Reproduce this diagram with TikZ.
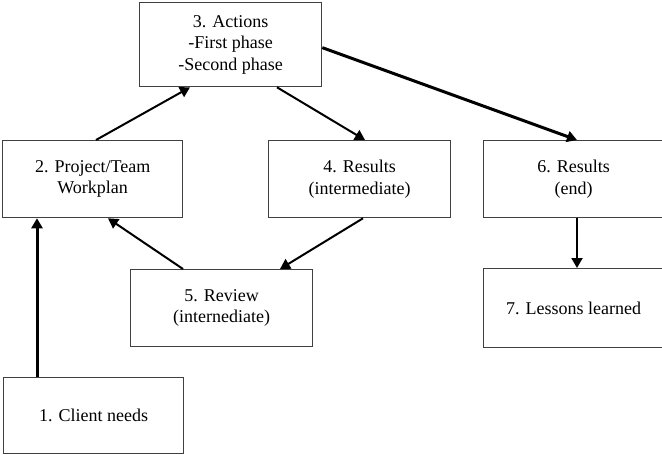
\documentclass[tikz,border=0pt]{standalone}
\usepackage{fontspec}
\setmainfont{Liberation Serif}
\usetikzlibrary{arrows.meta}
\begin{document}
\begin{tikzpicture}[x=1pt,y=-1pt,
  box/.style={draw=black!75,line width=1.3pt,rectangle,anchor=north west,align=center,inner sep=0pt,
    font=\fontsize{18}{21.5}\selectfont},
  arr/.style={line width=2pt,-{Triangle[length=10pt,width=11pt]}},
  thickarr/.style={arr,line width=3pt}]
\useasboundingbox (0,0) rectangle (662,455);
\clip (0,0) rectangle (662,455);
\fill[white] (0,0) rectangle (662,455);
\node[box,minimum width=182pt,minimum height=84pt] (n3) at (139,2) {3. Actions\\-First phase\\-Second phase};
\node[box,minimum width=180pt,minimum height=77pt] (n2) at (2,140) {2. Project/Team\\Workplan};
\node[box,minimum width=182pt,minimum height=77pt] (n4) at (268,140) {4. Results\\(intermediate)};
\node[box,minimum width=180pt,minimum height=77pt] (n6) at (483,140) {6. Results\\(end)};
\node[box,minimum width=180pt,minimum height=79pt] (n7) at (483,268) {7. Lessons learned};
\node[box,minimum width=182pt,minimum height=77pt] (n5) at (130,269) {5. Review\\(internediate)};
\node[box,minimum width=180pt,minimum height=76pt] (n1) at (3,377) {1. Client needs};
\draw[thickarr] ([xshift=34pt]n1.north west) -- ([xshift=35pt]n2.south west);
\draw[arr] ([xshift=94pt]n2.north west) -- ([xshift=51pt]n3.south west);
\draw[arr] ([xshift=138pt]n3.south west) -- ([xshift=97pt]n4.north west);
\draw[thickarr] ([yshift=-3pt]n3.east) -- ([xshift=94pt]n6.north west);
\draw[arr] ([xshift=95pt]n4.south west) -- ([xshift=150pt]n5.north west);
\draw[arr] ([xshift=53pt]n5.north west) -- ([xshift=106pt]n2.south west);
\draw[arr] ([xshift=94pt]n6.south west) -- ([xshift=94pt]n7.north west);
\end{tikzpicture}
\end{document}
